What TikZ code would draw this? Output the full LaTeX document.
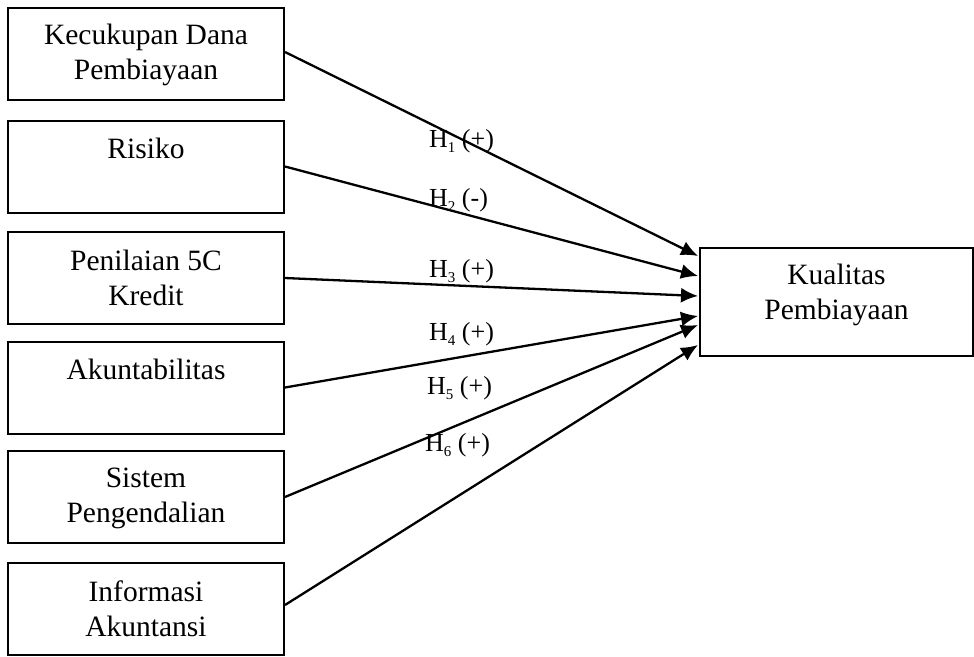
\documentclass[tikz,border=0pt]{standalone}
\usepackage{fontspec}
\setmainfont{Liberation Serif}
\usetikzlibrary{arrows.meta,calc}
\newcommand{\lstrut}{\rule[-4pt]{0pt}{27pt}}
\newcommand{\hsub}[1]{\raisebox{-0.2em}{\fontsize{15}{15}\selectfont #1}}
\begin{document}
\begin{tikzpicture}[x=1pt,y=-1pt,
  box/.style={draw,line width=2pt,minimum width=276pt,minimum height=92pt,inner sep=0pt,
    align=center,font=\fontsize{29.5}{35}\selectfont},
  rbox/.style={draw,line width=2pt,minimum width=273pt,minimum height=108pt,inner sep=0pt,
    align=center,font=\fontsize{29.5}{35}\selectfont},
  hyp/.style={inner sep=0pt,anchor=base west,font=\fontsize{26}{30}\selectfont},
  link/.style={line width=2.3pt,-{Latex[length=17pt,width=15pt]}}]
\useasboundingbox (0,0) rectangle (974,656);
\node[box] (b1) at (146,54) {\lstrut Kecukupan Dana\\\lstrut Pembiayaan};
\node[box] (b2) at (146,166.5) {\lstrut Risiko\\\lstrut};
\node[box] (b3) at (146,278) {\lstrut Penilaian 5C\\\lstrut Kredit};
\node[box] (b4) at (146,387.5) {\lstrut Akuntabilitas\\\lstrut};
\node[box] (b5) at (146,497) {\lstrut Sistem\\\lstrut Pengendalian};
\node[box] (b6) at (146,609) {\lstrut Informasi\\\lstrut Akuntansi};
\node[rbox] (k) at (836.5,302) {\rule{0pt}{27pt}Kualitas\\\rule[-27pt]{0pt}{1pt}Pembiayaan};
\coordinate (t1) at ($(k.north west)+(-1,9)$);
\coordinate (t2) at ($(k.north west)+(-1,29)$);
\coordinate (t3) at ($(k.north west)+(-1,49)$);
\coordinate (t4) at ($(k.north west)+(-1,69)$);
\coordinate (t5) at ($(k.north west)+(-1,78)$);
\coordinate (t6) at ($(k.north west)+(-1,98)$);
\draw[link] ($(b1.east)+(0,-2)$) -- (t1);
\draw[link] (b2.east) -- (t2);
\draw[link] (b3.east) -- (t3);
\draw[link] (b4.east) -- (t4);
\draw[link] (b5.east) -- (t5);
\draw[link] ($(b6.east)+(0,-4)$) -- (t6);
\node[hyp] (h1) at (429,147) {H\hsub{1} (+)};
\node[hyp] (h2) at (429,206) {H\hsub{2} (-)};
\node[hyp] (h3) at (429,277) {H\hsub{3} (+)};
\node[hyp] (h4) at (429,340) {H\hsub{4} (+)};
\node[hyp] (h5) at (427,394) {H\hsub{5} (+)};
\node[hyp] (h6) at (425,451) {H\hsub{6} (+)};
\end{tikzpicture}
\end{document}
